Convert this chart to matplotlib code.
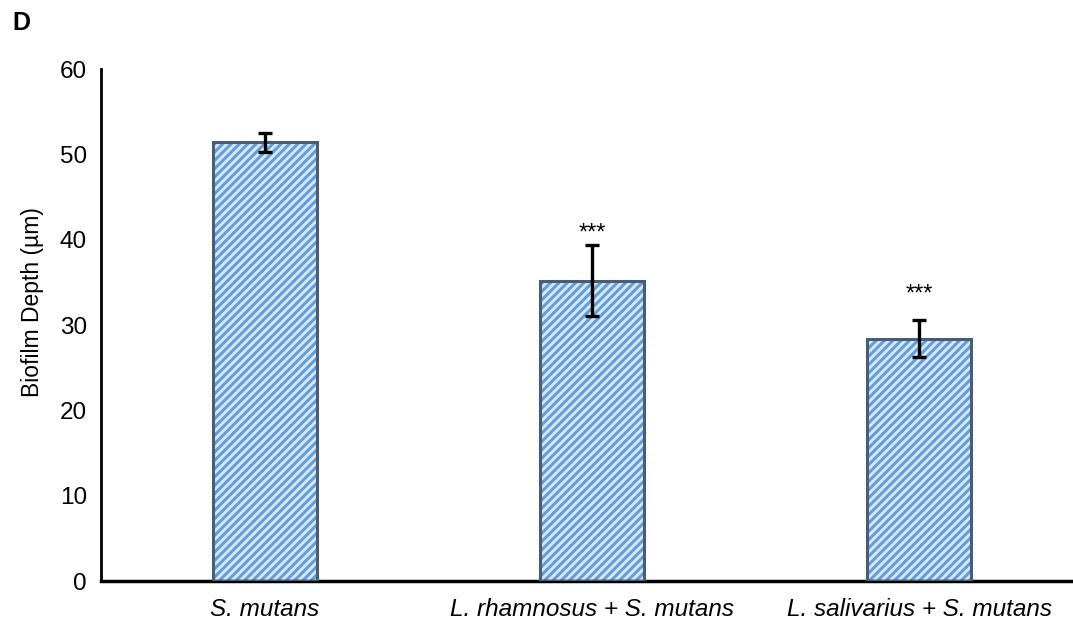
import numpy as np
import matplotlib.pyplot as plt

plt.rcParams['font.family'] = ['Liberation Sans', 'DejaVu Sans']
plt.rcParams['hatch.linewidth'] = 2.2

groups = ['S. mutans', 'L. rhamnosus + S. mutans', 'L. salivarius + S. mutans']
depth = [51.4, 35.2, 28.4]
depth_err = [1.1, 4.2, 2.15]
signif = ['', '***', '***']
signif_y = [0, 40.0, 32.9]

fig = plt.figure(figsize=(10.73, 6.26), dpi=100)
ax = fig.add_axes([101 / 1073, 45 / 626, 982 / 1073, 512 / 626])

x = np.arange(len(groups))
w = 0.317
# striped fill first, then the dark outline on top
ax.bar(x, depth, w, color='#dae8f6', edgecolor='#63a0d9', hatch='////', linewidth=0, zorder=2)
ax.bar(x, depth, w, fill=False, edgecolor='#4a5d78', linewidth=2.2, zorder=3)
ax.errorbar(x, depth, yerr=depth_err, fmt='none', ecolor='black', elinewidth=2.4,
            capsize=5, capthick=2.4, zorder=4)
for xi, s, sy in zip(x, signif, signif_y):
    if s:
        ax.text(xi, sy, s, ha='center', va='baseline', fontsize=17)

ax.set_xlim(-0.5, 2.5)
ax.set_ylim(0, 60)
ax.set_yticks(range(0, 61, 10))
ax.set_xticks(x)
ax.set_xticklabels(groups, fontsize=17.5, style='italic')
ax.tick_params(axis='y', labelsize=17.5, length=0, pad=10)
ax.tick_params(axis='x', length=0, pad=12)
ax.set_ylabel('Biofilm Depth (µm)', fontsize=16.5)
ax.yaxis.set_label_coords(-0.058, 0.545)
for sp in ['top', 'right']:
    ax.spines[sp].set_visible(False)
ax.spines['left'].set_linewidth(2)
ax.spines['bottom'].set_linewidth(2.5)

fig.text(12 / 1073, 1 - 30 / 626, 'D', fontsize=18, fontweight='bold')

fig.savefig('out.png', dpi=100)
